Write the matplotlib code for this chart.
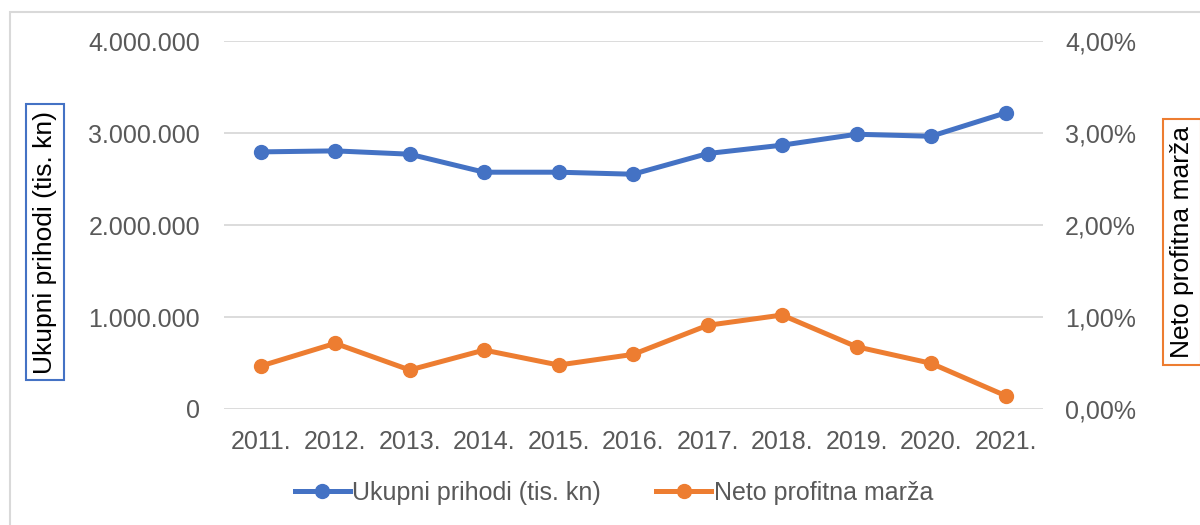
import matplotlib.pyplot as plt
import numpy as np
from matplotlib.patches import Rectangle
from matplotlib.lines import Line2D
from matplotlib.ticker import FuncFormatter

plt.rcParams['font.family'] = ['Liberation Sans', 'DejaVu Sans']

# Data
years = ['2011.', '2012.', '2013.', '2014.', '2015.', '2016.',
         '2017.', '2018.', '2019.', '2020.', '2021.']
prihodi = [2797000, 2808000, 2772000, 2576000, 2576000, 2554000,
           2779000, 2870000, 2989000, 2967000, 3221000]
marza = [0.467, 0.714, 0.424, 0.641, 0.478, 0.594,
         0.910, 1.022, 0.677, 0.497, 0.145]

blue = '#4472C4'
orange = '#ED7D31'
tick_color = '#595959'
grid_color = '#D9D9D9'
fs = 18

fig = plt.figure(figsize=(12, 5.25), dpi=100)
ax = fig.add_axes([0.18625, 0.221, 0.6827, 0.7003])
ax2 = ax.twinx()

x = np.arange(len(years))
ax.plot(x, prihodi, color=blue, lw=3.6, marker='o', ms=10, solid_capstyle='round')
ax2.plot(x, marza, color=orange, lw=3.6, marker='o', ms=10, solid_capstyle='round')

ax.set_xlim(-0.5, len(years) - 0.5)
ax.set_ylim(0, 4000000)
ax2.set_ylim(0, 4)
ax.set_yticks(np.arange(0, 4000001, 1000000))
ax2.set_yticks(np.arange(0, 4.01, 1))
ax.set_xticks(x)
ax.set_xticklabels(years)

ax.yaxis.set_major_formatter(FuncFormatter(lambda v, p: f'{int(v):,}'.replace(',', '.')))
ax2.yaxis.set_major_formatter(FuncFormatter(lambda v, p: f'{v:.2f}'.replace('.', ',') + '%'))

ax.grid(axis='y', color=grid_color, lw=1.3)
ax.set_axisbelow(True)
for a in (ax, ax2):
    for s in a.spines.values():
        s.set_visible(False)
    a.tick_params(length=0, labelsize=fs, labelcolor=tick_color)
ax.tick_params(axis='y', pad=17)
ax2.tick_params(axis='y', pad=16)
ax.tick_params(axis='x', pad=15)

# boxed axis titles
fig.text(45 / 1200, 1 - 242 / 525, 'Ukupni prihodi (tis. kn)', rotation=90,
         ha='center', va='center', fontsize=19, color='black',
         bbox=dict(boxstyle='square,pad=0.25', fc='white', ec=blue, lw=1.5))
fig.text(1182 / 1200, 1 - 242 / 525, 'Neto profitna marža', rotation=90,
         ha='center', va='center', fontsize=19, color='black',
         bbox=dict(boxstyle='square,pad=0.25', fc='white', ec=orange, lw=1.5))

# legend
handles = [Line2D([], [], color=blue, lw=3.6, marker='o', ms=10),
           Line2D([], [], color=orange, lw=3.6, marker='o', ms=10)]
fig.legend(handles, ['Ukupni prihodi (tis. kn)', 'Neto profitna marža'],
           loc='center', bbox_to_anchor=(614 / 1200, 1 - 493 / 525), ncol=2,
           frameon=False, fontsize=fs, labelcolor=tick_color,
           handlelength=2.2, handletextpad=0.1, columnspacing=2.2)

# chart area frame
fig.patches.append(Rectangle((10 / 1200, -0.1), 1.2, 1.1 - 12 / 525,
                             transform=fig.transFigure, fill=False,
                             ec=grid_color, lw=1.5, zorder=-1))

fig.savefig('out.png', dpi=100)
